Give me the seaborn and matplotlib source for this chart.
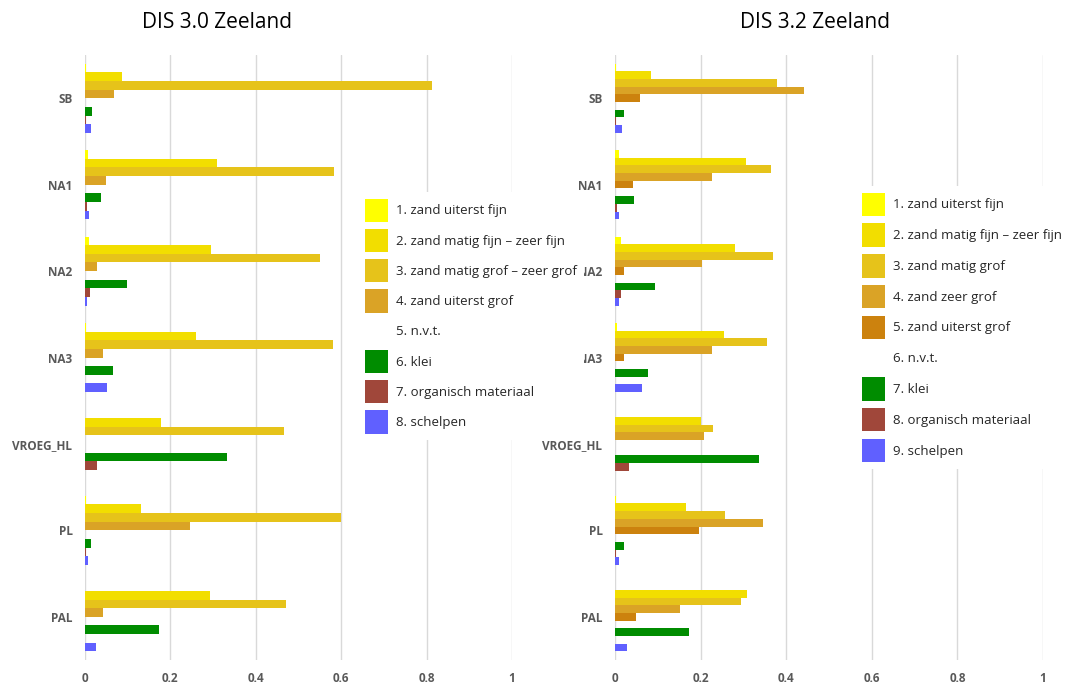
import numpy as np
import pandas as pd
import matplotlib
matplotlib.use("Agg")
import matplotlib.pyplot as plt
import seaborn as sns
from matplotlib.patches import Patch

sns.set_style("white")
plt.rcParams["font.family"] = ["Open Sans", "DejaVu Sans"]

categories = ["SB", "NA1", "NA2", "NA3", "VROEG_HL", "PL", "PAL"]

# DIS 3.0 Zeeland
labels_30 = ["1. zand uiterst fijn", "2. zand matig fijn \u2013 zeer fijn",
             "3. zand matig grof \u2013 zeer grof", "4. zand uiterst grof",
             "5. n.v.t.", "6. klei", "7. organisch materiaal", "8. schelpen"]
uiterst_fijn_30 = [0.003, 0.008, 0.010, 0.002, 0.0, 0.002, 0.0]
matig_fijn_30 = [0.087, 0.309, 0.295, 0.259, 0.178, 0.131, 0.292]
matig_grof_30 = [0.813, 0.583, 0.551, 0.581, 0.465, 0.600, 0.470]
uiterst_grof_30 = [0.069, 0.049, 0.029, 0.041, 0.0, 0.246, 0.043]
nvt_30 = [0, 0, 0, 0, 0, 0, 0]
klei_30 = [0.017, 0.038, 0.098, 0.066, 0.332, 0.015, 0.173]
organisch_30 = [0.002, 0.004, 0.012, 0.0, 0.027, 0.002, 0.0]
schelpen_30 = [0.014, 0.010, 0.004, 0.052, 0.0, 0.008, 0.025]

# DIS 3.2 Zeeland
labels_32 = ["1. zand uiterst fijn", "2. zand matig fijn \u2013 zeer fijn",
             "3. zand matig grof", "4. zand zeer grof", "5. zand uiterst grof",
             "6. n.v.t.", "7. klei", "8. organisch materiaal", "9. schelpen"]
uiterst_fijn_32 = [0.003, 0.009, 0.013, 0.004, 0.0, 0.002, 0.0]
matig_fijn_32 = [0.085, 0.305, 0.281, 0.255, 0.200, 0.166, 0.309]
matig_grof_32 = [0.379, 0.365, 0.370, 0.356, 0.230, 0.258, 0.295]
zeer_grof_32 = [0.442, 0.227, 0.204, 0.227, 0.209, 0.346, 0.152]
uiterst_grof_32 = [0.059, 0.041, 0.022, 0.022, 0.0, 0.197, 0.048]
nvt_32 = [0, 0, 0, 0, 0, 0, 0]
klei_32 = [0.022, 0.045, 0.094, 0.078, 0.337, 0.022, 0.173]
organisch_32 = [0.002, 0.004, 0.015, 0.0, 0.032, 0.002, 0.0]
schelpen_32 = [0.017, 0.010, 0.010, 0.064, 0.0, 0.010, 0.029]

colors_30 = ["#FFFF00", "#F2DE00", "#E6C31A", "#DAA326", "#FFFFFF",
             "#008C00", "#A0473A", "#6060FF"]
colors_32 = ["#FFFF00", "#F2DE00", "#E6C31A", "#DAA326", "#CC820E", "#FFFFFF",
             "#008C00", "#A0473A", "#6060FF"]

series_30 = [uiterst_fijn_30, matig_fijn_30, matig_grof_30, uiterst_grof_30,
             nvt_30, klei_30, organisch_30, schelpen_30]
series_32 = [uiterst_fijn_32, matig_fijn_32, matig_grof_32, zeer_grof_32,
             uiterst_grof_32, nvt_32, klei_32, organisch_32, schelpen_32]


def to_long(labels, series):
    rows = []
    for lab, vals in zip(labels, series):
        for cat, v in zip(categories, vals):
            rows.append({"cat": cat, "soort": lab, "aandeel": v})
    return pd.DataFrame(rows)


df30 = to_long(labels_30, series_30)
df32 = to_long(labels_32, series_32)

fig = plt.figure(figsize=(10.71, 6.84), dpi=100)
W, H = 1071, 684
ax1 = fig.add_axes([85 / W, 1 - 660 / H, 427 / W, 605 / H])
ax2 = fig.add_axes([615 / W, 1 - 660 / H, 428 / W, 605 / H])

grey = "#595959"
for ax, df, labels, colors in [(ax1, df30, labels_30, colors_30),
                               (ax2, df32, labels_32, colors_32)]:
    sns.barplot(data=df, x="aandeel", y="cat", hue="soort", hue_order=labels,
                order=categories, palette=colors, saturation=1, errorbar=None,
                linewidth=0, width=0.8, legend=False, ax=ax)
    ax.set_xlim(0, 1.0)
    ax.set_ylim(len(categories) - 0.5, -0.5)
    ax.set_xticks([0, 0.2, 0.4, 0.6, 0.8, 1.0])
    ax.set_xticklabels(["0", "0.2", "0.4", "0.6", "0.8", "1"])
    ax.xaxis.grid(True, color="#d9d9d9", linewidth=1)
    ax.set_axisbelow(True)
    sns.despine(ax=ax, left=True, bottom=True)
    ax.set_xlabel("")
    ax.set_ylabel("")
    ax.tick_params(axis="both", length=0, labelcolor=grey, labelsize=8.5, pad=9)
    for t in ax.get_xticklabels() + ax.get_yticklabels():
        t.set_fontweight("bold")

fig.text(217 / W, 1 - 22 / H, "DIS 3.0 Zeeland", ha="center", va="center",
         fontsize=15, color="black")
fig.text(815 / W, 1 - 22 / H, "DIS 3.2 Zeeland", ha="center", va="center",
         fontsize=15, color="black")


def make_legend(labels, colors, anchor, spacing):
    handles = [Patch(facecolor=c, edgecolor="none") for c in colors]
    leg = fig.legend(handles, labels, loc="upper left", bbox_to_anchor=anchor,
                     frameon=True, facecolor="white", edgecolor="none", framealpha=1,
                     fontsize=9.5, handlelength=1.8, handleheight=2.35,
                     handletextpad=0.6, labelspacing=spacing, borderpad=0.5,
                     borderaxespad=0, fancybox=False)
    for t in leg.get_texts():
        t.set_color("#262626")
    return leg


make_legend(labels_30, colors_30, (358 / W, 1 - 192 / H), 0.52)
make_legend(labels_32, colors_32, (855 / W, 1 - 186 / H), 0.56)

fig.savefig("out.png", dpi=100, facecolor="white")
